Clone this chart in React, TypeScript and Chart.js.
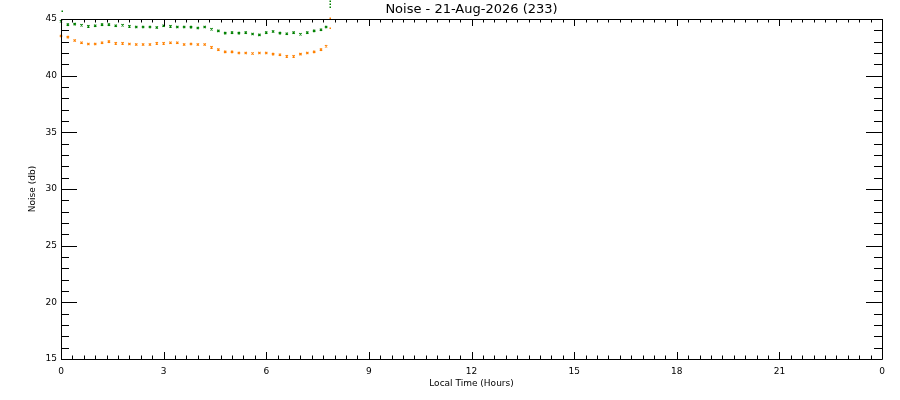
import React, { useEffect, useRef } from "react";
import { Chart, registerables } from "chart.js";

Chart.register(...registerables);

const chartTitle = "Noise - 21-Aug-2026 (233)";
const xTitle = "Local Time (Hours)";
const yTitle = "Noise (db)";

// sample times in hours
const times = [
  0.0, 0.2, 0.4, 0.6, 0.8, 1.0, 1.2, 1.4, 1.6, 1.8,
  2.0, 2.2, 2.4, 2.6, 2.8, 3.0, 3.2, 3.4, 3.6, 3.8,
  4.0, 4.2, 4.4, 4.6, 4.8, 5.0, 5.2, 5.4, 5.6, 5.8,
  6.0, 6.2, 6.4, 6.6, 6.8, 7.0, 7.2, 7.4, 7.6, 7.75,
];

const greenNoise = [
  44.8, 44.5, 44.55, 44.45, 44.35, 44.4, 44.5, 44.5, 44.4, 44.45,
  44.35, 44.3, 44.3, 44.3, 44.25, 44.4, 44.35, 44.3, 44.3, 44.28,
  44.2, 44.3, 44.1, 43.95, 43.75, 43.8, 43.75, 43.8, 43.68, 43.6,
  43.8, 43.9, 43.75, 43.7, 43.8, 43.65, 43.8, 43.95, 44.05, 44.3,
];

const orangeNoise = [
  43.5, 43.4, 43.1, 42.9, 42.8, 42.8, 42.9, 43.0, 42.85, 42.85,
  42.8, 42.75, 42.75, 42.75, 42.85, 42.85, 42.9, 42.9, 42.75, 42.8,
  42.75, 42.75, 42.5, 42.3, 42.1, 42.1, 42.0, 42.0, 41.95, 42.0,
  42.0, 41.9, 41.85, 41.7, 41.7, 41.9, 42.0, 42.1, 42.3, 42.6,
];

// isolated outlying samples (partly above the plotted range)
const greenExtraTimes = [0.03, 7.85, 7.85, 7.85];
const greenExtraValues = [45.7, 46.6, 46.35, 46.05];
const orangeExtraTimes = [7.85, 7.85];
const orangeExtraValues = [45.05, 44.2];

const xMin = 0;
const xMax = 24;
const xMajorStep = 3;
const yMin = 15;
const yMax = 45;
const yMajorStep = 5;

const GREEN = "#008000";
const ORANGE = "#ff8000";

const toPoints = (xs: number[], ys: number[]) => xs.map((x, i) => ({ x, y: ys[i] }));

const outliers = {
  id: "outliers",
  afterDatasetsDraw(chart: any) {
    const { ctx, scales } = chart;
    const x = scales.x;
    const y = scales.y;
    const drawSet = (xs: number[], ys: number[], color: string) => {
      ctx.fillStyle = color;
      xs.forEach((t, i) => {
        const px = x.getPixelForValue(t);
        const py = y.getPixelForValue(ys[i]);
        ctx.fillRect(Math.round(px) - 0.5, Math.round(py) - 0.5, 1.5, 1.5);
      });
    };
    ctx.save();
    drawSet(greenExtraTimes, greenExtraValues, GREEN);
    drawSet(orangeExtraTimes, orangeExtraValues, ORANGE);
    ctx.restore();
  },
};

const idlTicks = {
  id: "idlTicks",
  afterDraw(chart: any) {
    const { ctx, chartArea: a, scales } = chart;
    const x = scales.x;
    const y = scales.y;
    ctx.save();
    ctx.strokeStyle = "#000";
    ctx.lineWidth = 1;
    ctx.beginPath();
    ctx.rect(Math.round(a.left) + 0.5, Math.round(a.top) + 0.5, Math.round(a.right - a.left), Math.round(a.bottom - a.top));
    ctx.stroke();
    ctx.beginPath();
    // x ticks: minor every 1/3 hour, major every 3 hours
    for (let i = 0; i <= (xMax - xMin) * 3; i++) {
      const v = xMin + i / 3;
      const px = Math.round(x.getPixelForValue(v)) + 0.5;
      const major = i % (xMajorStep * 3) === 0;
      const len = major ? 7 : 3.5;
      ctx.moveTo(px, a.bottom);
      ctx.lineTo(px, a.bottom - len);
      ctx.moveTo(px, a.top);
      ctx.lineTo(px, a.top + len);
    }
    // y ticks: minor every 1, major every 5
    for (let v = yMin; v <= yMax; v++) {
      const py = Math.round(y.getPixelForValue(v)) + 0.5;
      const major = (v - yMin) % yMajorStep === 0;
      const len = major ? 16 : 8;
      ctx.moveTo(a.left, py);
      ctx.lineTo(a.left + len, py);
      ctx.moveTo(a.right, py);
      ctx.lineTo(a.right - len, py);
    }
    ctx.stroke();
    ctx.restore();
  },
};

const whiteBg = {
  id: "whiteBg",
  beforeDraw(chart: any) {
    const { ctx, width, height } = chart;
    ctx.save();
    ctx.fillStyle = "#fff";
    ctx.fillRect(0, 0, width, height);
    ctx.restore();
  },
};

export default function App() {
  const ref = useRef<HTMLCanvasElement | null>(null);

  useEffect(() => {
    if (!ref.current) return;
    const font = "'DejaVu Sans', sans-serif";
    const pointCommon = {
      type: "scatter" as const,
      showLine: false,
      pointStyle: "crossRot" as const,
      pointRadius: 1.6,
      pointBorderWidth: 1.2,
      clip: false as any,
    };
    const chart = new Chart(ref.current, {
      type: "scatter",
      data: {
        datasets: [
          { ...pointCommon, label: "green", data: toPoints(times, greenNoise), borderColor: GREEN, backgroundColor: GREEN },
          { ...pointCommon, label: "orange", data: toPoints(times, orangeNoise), borderColor: ORANGE, backgroundColor: ORANGE },
        ],
      },
      options: {
        animation: false,
        responsive: false,
        devicePixelRatio: 1,
        layout: { padding: { left: 0, right: 18, top: 0, bottom: 0 } },
        plugins: {
          legend: { display: false },
          tooltip: { enabled: false },
          title: {
            display: true,
            text: chartTitle,
            color: "#000",
            fullSize: false,
            font: { family: font, size: 13, weight: "normal", lineHeight: 1.2 },
            padding: { top: 2, bottom: 1.4 },
          },
        },
        scales: {
          x: {
            type: "linear",
            min: xMin,
            max: xMax,
            grid: { display: false, drawTicks: false },
            border: { display: false },
            ticks: {
              stepSize: xMajorStep,
              color: "#000",
              padding: 7,
              maxRotation: 0,
              font: { family: font, size: 9 },
              callback: (v: any) => String(Number(v) % 24),
            },
            title: {
              display: true,
              text: xTitle,
              color: "#000",
              font: { family: font, size: 9, lineHeight: 1.2 },
              padding: { top: 0, bottom: 11 },
            },
            afterFit: (s: any) => {
              s.height = 41;
            },
          },
          y: {
            type: "linear",
            min: yMin,
            max: yMax,
            grid: { display: false, drawTicks: false },
            border: { display: false },
            ticks: {
              stepSize: yMajorStep,
              color: "#000",
              padding: 4,
              font: { family: font, size: 9 },
            },
            title: {
              display: true,
              text: yTitle,
              color: "#000",
              font: { family: font, size: 9, lineHeight: 1.2 },
              padding: { top: 27, bottom: 0 },
            },
            afterFit: (s: any) => {
              s.width = 61;
            },
          },
        },
      },
      plugins: [whiteBg, outliers, idlTicks],
    });
    return () => chart.destroy();
  }, []);

  return (
    <div style={{ position: "absolute", left: 0, top: 0, width: 900, height: 400, background: "#fff" }}>
      <canvas ref={ref} width={900} height={400} style={{ width: 900, height: 400, display: "block" }} />
    </div>
  );
}
